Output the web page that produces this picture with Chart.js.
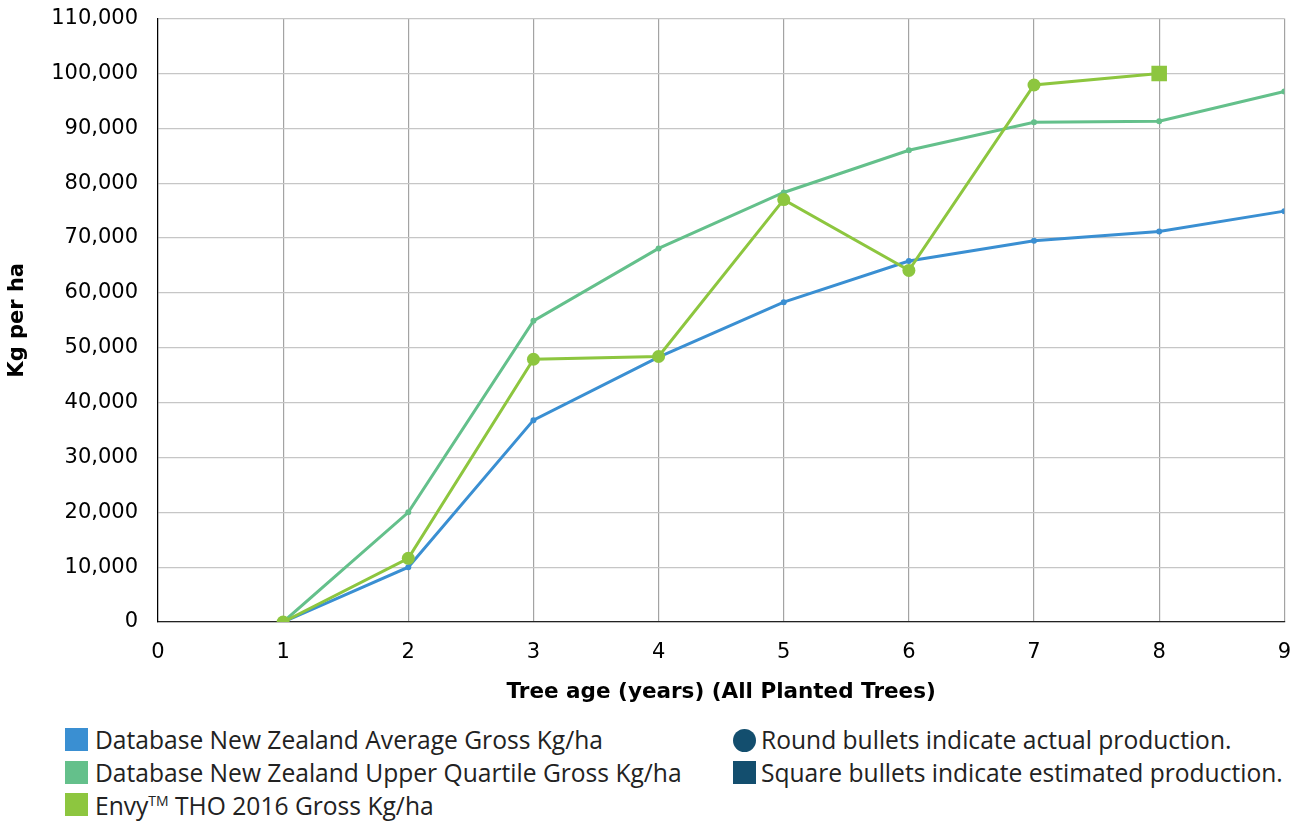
<!DOCTYPE html>
<html>
<head>
<meta charset="utf-8">
<script src="https://cdn.jsdelivr.net/npm/chart.js@4.4.1/dist/chart.umd.min.js"></script>
<style>
  html, body { margin: 0; padding: 0; background: #fff; }
  #wrap { position: relative; width: 1309px; height: 821px; overflow: hidden; }
  #c { position: absolute; left: 0; top: -14px; }
  .lg { position: absolute; font-family: "Open Sans", "Noto Sans", sans-serif; font-size: 24.6px; color: #222; white-space: nowrap; line-height: 30px; }
  .sw { position: absolute; width: 23px; height: 23px; }
  sup { font-size: 14px; vertical-align: 9px; line-height: 0; }
</style>
</head>
<body>
<div id="wrap">
  <canvas id="c" width="1309" height="726"></canvas>
  <div class="sw" style="left:65px;top:728px;background:#3a8fd2"></div>
  <div class="lg" style="left:95px;top:725px">Database New Zealand Average Gross Kg/ha</div>
  <div class="sw" style="left:65px;top:761px;background:#64c08b"></div>
  <div class="lg" style="left:95px;top:758px">Database New Zealand Upper Quartile Gross Kg/ha</div>
  <div class="sw" style="left:65px;top:793px;background:#8dc63f"></div>
  <div class="lg" style="left:95px;top:791px">Envy<sup>TM</sup> THO 2016 Gross Kg/ha</div>
  <div class="sw" style="left:733px;top:729px;background:#134e6e;border-radius:50%"></div>
  <div class="lg" style="left:761px;top:725px">Round bullets indicate actual production.</div>
  <div class="sw" style="left:733px;top:761px;background:#134e6e"></div>
  <div class="lg" style="left:761px;top:758px">Square bullets indicate estimated production.</div>
</div>
<script>
const ages = [1, 2, 3, 4, 5, 6, 7, 8, 9];
const avgGross = [0, 10000, 36800, 48300, 58300, 65800, 69500, 71200, 74900];
const upperQuartile = [0, 20000, 54900, 68100, 78300, 86000, 91100, 91300, 96700];
const envyAges = [1, 2, 3, 4, 5, 6, 7, 8];
const envyGross = [0, 11600, 47900, 48400, 77000, 64100, 97900, 100000];
const envyEstimated = [false, false, false, false, false, false, false, true];
const yTicksMax = 110000;
const yStep = 10000;

const toPts = (xs, ys) => xs.map((x, i) => ({ x: x, y: ys[i] }));

new Chart(document.getElementById('c'), {
  type: 'line',
  data: {
    datasets: [
      {
        label: 'Envy THO 2016 Gross Kg/ha',
        data: toPts(envyAges, envyGross),
        borderColor: '#8dc63f',
        backgroundColor: '#8dc63f',
        borderWidth: 3,
        pointStyle: envyEstimated.map(e => e ? 'rect' : 'circle'),
        pointRadius: envyEstimated.map(e => e ? 11 : 6.5),
        pointBorderWidth: 0,
        order: 0
      },
      {
        label: 'Database New Zealand Average Gross Kg/ha',
        data: toPts(ages, avgGross),
        borderColor: '#3a8fd2',
        backgroundColor: '#3a8fd2',
        borderWidth: 3,
        pointRadius: 3,
        pointBorderWidth: 0,
        order: 1
      },
      {
        label: 'Database New Zealand Upper Quartile Gross Kg/ha',
        data: toPts(ages, upperQuartile),
        borderColor: '#64c08b',
        backgroundColor: '#64c08b',
        borderWidth: 3,
        pointRadius: 3,
        pointBorderWidth: 0,
        order: 2
      }
    ]
  },
  options: {
    responsive: false,
    animation: false,
    devicePixelRatio: 1,
    layout: { autoPadding: false, padding: { top: 6, right: 23, left: 0, bottom: 0 } },
    plugins: { legend: { display: false }, tooltip: { enabled: false } },
    scales: {
      x: {
        type: 'linear',
        min: 0, max: 9,
        afterFit: s => { s.height = 90; },
        ticks: { stepSize: 1, color: '#000', padding: 18, font: { family: 'DejaVu Sans', size: 21 } },
        grid: { color: '#a3a3a3', lineWidth: 1.2, drawTicks: false },
        border: { color: '#222', width: 1.2 },
        title: { display: true, text: 'Tree age (years) (All Planted Trees)', color: '#000', font: { family: 'DejaVu Sans', size: 21.5, weight: 'bold' }, padding: { top: 10, bottom: 7 } }
      },
      y: {
        min: 0, max: yTicksMax,
        afterFit: s => { s.width = 158; },
        ticks: { stepSize: yStep, color: '#000', padding: 20, font: { family: 'DejaVu Sans', size: 21 },
          callback: v => v.toLocaleString('en-US') },
        grid: { color: '#c6c6c6', lineWidth: 1.2, drawTicks: false },
        border: { color: '#000', width: 1.2 },
        title: { display: true, text: 'Kg per ha', color: '#000', font: { family: 'DejaVu Sans', size: 21, weight: 'bold' }, padding: { top: 5, bottom: 4 } }
      }
    }
  }
});
</script>
</body>
</html>
